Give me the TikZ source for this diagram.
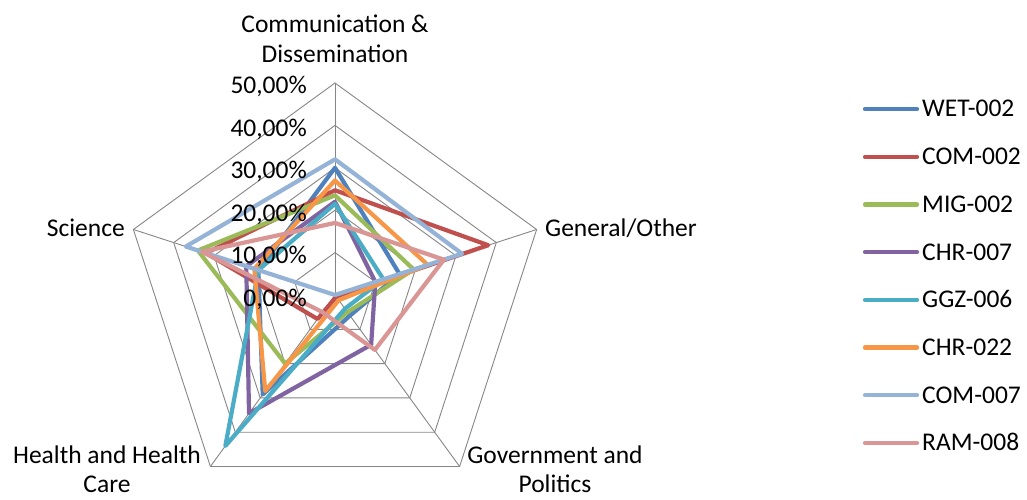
\documentclass[tikz,border=0pt]{standalone}
\usepackage{fontspec}
\setmainfont{Carlito}
\definecolor{wet}{HTML}{4F81BD}
\definecolor{comb}{HTML}{C0504D}
\definecolor{mig}{HTML}{9BBB59}
\definecolor{chrs}{HTML}{8064A2}
\definecolor{ggz}{HTML}{4BACC6}
\definecolor{chrt}{HTML}{F79646}
\definecolor{coms}{HTML}{95B3D7}
\definecolor{ram}{HTML}{D99694}
\definecolor{gridc}{HTML}{868686}
\def\k{4.24}
\newcommand\radarline[6]{\draw[serline,#1] (90:#2*\k) -- (18:#3*\k) -- (-54:#4*\k) -- (-126:#5*\k) -- (162:#6*\k) -- cycle;}
\tikzset{
  gridline/.style={draw=gridc, line width=0.9pt},
  serline/.style={line width=4.2pt, line join=round, line cap=round},
  legline/.style={line width=4.2pt, line cap=round},
  lbl/.style={inner sep=0pt, text=black},
}
\begin{document}
\begin{tikzpicture}[x=1pt,y=1pt,font=\fontsize{25.5}{30}\selectfont]
\useasboundingbox (0,0) rectangle (1027,499);
\begin{scope}[shift={(335,204)}]
  \foreach \p in {10,20,30,40,50}
    \draw[gridline] (90:\p*\k) -- (18:\p*\k) -- (-54:\p*\k) -- (-126:\p*\k) -- (162:\p*\k) -- cycle;
  \foreach \a in {90,18,-54,-126,162}
    \draw[gridline] (0,0) -- (\a:50*\k);
  \radarline{wet}{30}{16}{6}{29}{19}
  \radarline{comb}{24.7}{38}{0.5}{7}{32}
  \radarline{mig}{23.5}{19.5}{5}{20}{34}
  \radarline{chrs}{22}{10}{14.5}{34.5}{22}
  \radarline{ggz}{21.5}{12}{4}{44}{19}
  \radarline{chrt}{27}{23}{1.5}{28}{20}
  \radarline{coms}{32}{31.5}{0}{0}{37}
  \radarline{ram}{17}{27}{16}{5}{33}
\end{scope}
\foreach \p in {0,10,20,30,40,50}
  \node[lbl, anchor=base east] (pct\p) at (307, {204+4.24*\p-11}) {\p,00\%};
\node[lbl, anchor=base] (comm1) at (335,466) {Communication \&};
\node[lbl, anchor=base] (comm2) at (335,436) {Dissemination};
\node[lbl, anchor=base west] (gen) at (545,263) {General/Other};
\node[lbl, anchor=base east] (sci) at (125,263) {Science};
\node[lbl, anchor=base] (hea1) at (107,36) {Health and Health};
\node[lbl, anchor=base] (hea2) at (107,7) {Care};
\node[lbl, anchor=base] (gov1) at (555,36) {Government and};
\node[lbl, anchor=base] (gov2) at (555,7) {Politics};
\foreach \n/\c [count=\i from 0] in {WET-002/wet,COM-002/comb,MIG-002/mig,CHR-007/chrs,GGZ-006/ggz,CHR-022/chrt,COM-007/coms,RAM-008/ram} {
  \coordinate (la\i) at (865, {390-47.7*\i});
  \coordinate (lb\i) at (917, {390-47.7*\i});
  \draw[legline,\c] (la\i) -- (lb\i);
  \node[lbl, anchor=base west] (lt\i) at (922, {382-47.7*\i}) {\n};
}
\end{tikzpicture}
\end{document}
